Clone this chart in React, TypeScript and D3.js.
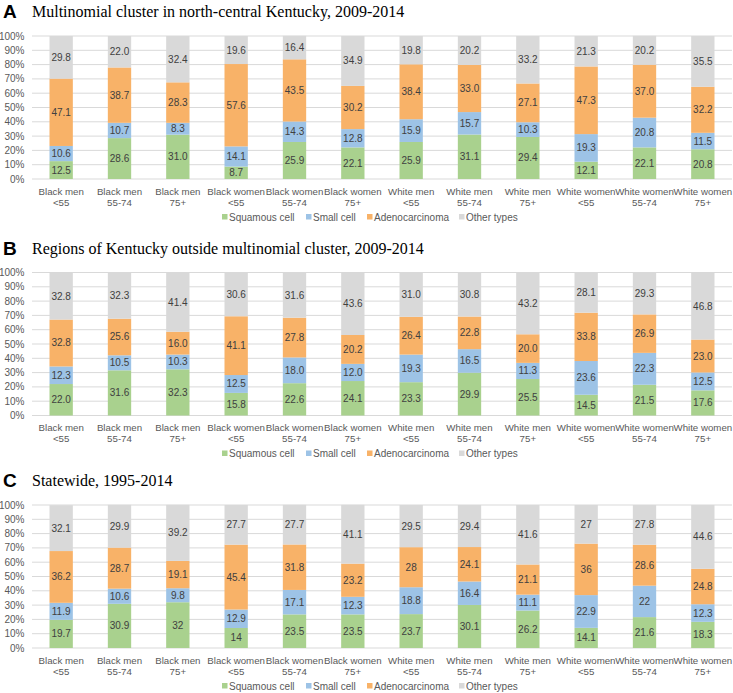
import React from "react";
import * as d3 from "d3";

const categories: string[][] = [
  ["Black men", "<55"], ["Black men", "55-74"], ["Black men", "75+"],
  ["Black women", "<55"], ["Black women", "55-74"], ["Black women", "75+"],
  ["White men", "<55"], ["White men", "55-74"], ["White men", "75+"],
  ["White women", "<55"], ["White women", "55-74"], ["White women", "75+"],
];
const seriesNames = ["Squamous cell", "Small cell", "Adenocarcinoma", "Other types"];
const seriesColors = ["#A9D18E", "#9DC3E6", "#F8B268", "#D9D9D9"];
const yTicks = [0, 10, 20, 30, 40, 50, 60, 70, 80, 90, 100];

// Panel A
const aSquamous = ["12.5", "28.6", "31.0", "8.7", "25.9", "22.1", "25.9", "31.1", "29.4", "12.1", "22.1", "20.8"];
const aSmall = ["10.6", "10.7", "8.3", "14.1", "14.3", "12.8", "15.9", "15.7", "10.3", "19.3", "20.8", "11.5"];
const aAdeno = ["47.1", "38.7", "28.3", "57.6", "43.5", "30.2", "38.4", "33.0", "27.1", "47.3", "37.0", "32.2"];
const aOther = ["29.8", "22.0", "32.4", "19.6", "16.4", "34.9", "19.8", "20.2", "33.2", "21.3", "20.2", "35.5"];
// Panel B
const bSquamous = ["22.0", "31.6", "32.3", "15.8", "22.6", "24.1", "23.3", "29.9", "25.5", "14.5", "21.5", "17.6"];
const bSmall = ["12.3", "10.5", "10.3", "12.5", "18.0", "12.0", "19.3", "16.5", "11.3", "23.6", "22.3", "12.5"];
const bAdeno = ["32.8", "25.6", "16.0", "41.1", "27.8", "20.2", "26.4", "22.8", "20.0", "33.8", "26.9", "23.0"];
const bOther = ["32.8", "32.3", "41.4", "30.6", "31.6", "43.6", "31.0", "30.8", "43.2", "28.1", "29.3", "46.8"];
// Panel C
const cSquamous = ["19.7", "30.9", "32", "14", "23.5", "23.5", "23.7", "30.1", "26.2", "14.1", "21.6", "18.3"];
const cSmall = ["11.9", "10.6", "9.8", "12.9", "17.1", "12.3", "18.8", "16.4", "11.1", "22.9", "22", "12.3"];
const cAdeno = ["36.2", "28.7", "19.1", "45.4", "31.8", "23.2", "28", "24.1", "21.1", "36", "28.6", "24.8"];
const cOther = ["32.1", "29.9", "39.2", "27.7", "27.7", "41.1", "29.5", "29.4", "41.6", "27", "27.8", "44.6"];

const panels = [
  { letter: "A", title: "Multinomial cluster in north-central Kentucky, 2009-2014", top: 36, series: [aSquamous, aSmall, aAdeno, aOther] },
  { letter: "B", title: "Regions of Kentucky outside multinomial cluster, 2009-2014", top: 272.5, series: [bSquamous, bSmall, bAdeno, bOther] },
  { letter: "C", title: "Statewide, 1995-2014", top: 505, series: [cSquamous, cSmall, cAdeno, cOther] },
];

const W = 733;
const H = 693;
const plotLeft = 32;
const plotRight = 732;
const plotH = 143;
const sans = "'Liberation Sans', Arial, sans-serif";
const serif = "'Liberation Serif', 'Times New Roman', serif";

function Panel({ p }: { p: typeof panels[number] }) {
  const x = d3.scaleBand<number>().domain(d3.range(categories.length)).range([plotLeft, plotRight]).paddingInner(0.6).paddingOuter(0.3);
  const y = d3.scaleLinear().domain([0, 100]).range([p.top + plotH, p.top]);
  const rows = categories.map((_, i) => {
    const obj: Record<string, number> = {};
    seriesNames.forEach((s, k) => (obj[s] = +p.series[k][i]));
    return obj;
  });
  const stacked = d3.stack<Record<string, number>>().keys(seriesNames)(rows);
  const y0 = y(0);
  const legendX = [222, 306, 367, 459];
  return (
    <g>
      <text x={3} y={p.top - 18} fontFamily={sans} fontWeight="bold" fontSize={19} fill="#000">{p.letter}</text>
      <text x={32} y={p.top - 19} fontFamily={serif} fontSize={16} fill="#000">{p.title}</text>
      {yTicks.map((t) => (
        <g key={t}>
          <line x1={plotLeft} x2={plotRight} y1={y(t)} y2={y(t)} stroke="#D9D9D9" strokeWidth={1} />
          <text x={24.5} y={y(t)} dy="0.35em" textAnchor="end" fontFamily={sans} fontSize={10} fill="#595959">{t}%</text>
        </g>
      ))}
      {stacked.map((layer, k) => (
        <g key={k}>
          {layer.map((d, i) => (
            <rect key={i} x={x(i)} width={x.bandwidth()} y={y(d[1])} height={y(d[0]) - y(d[1])} fill={seriesColors[k]} />
          ))}
          {layer.map((d, i) => (
            <text key={"t" + i} x={(x(i) as number) + x.bandwidth() / 2} y={(y(d[0]) + y(d[1])) / 2} dy="0.35em" textAnchor="middle" fontFamily={sans} fontSize={10} fill="#404040">{p.series[k][i]}</text>
          ))}
        </g>
      ))}
      {categories.map((c, i) => (
        <text key={i} x={(x(i) as number) + x.bandwidth() / 2} fontFamily={sans} fontSize={9.7} fill="#595959" textAnchor="middle">
          <tspan x={(x(i) as number) + x.bandwidth() / 2} y={y0 + 15.5}>{c[0]}</tspan>
          <tspan x={(x(i) as number) + x.bandwidth() / 2} y={y0 + 26.5}>{c[1]}</tspan>
        </text>
      ))}
      {seriesNames.map((s, k) => (
        <g key={s}>
          <rect x={legendX[k]} y={y0 + 35} width={5.5} height={5.5} fill={seriesColors[k]} />
          <text x={legendX[k] + 7} y={y0 + 38} dy="0.35em" fontFamily={sans} fontSize={10} fill="#595959">{s}</text>
        </g>
      ))}
    </g>
  );
}

export default function App() {
  return (
    <svg width={W} height={H} style={{ position: "absolute", left: 0, top: 0, background: "#fff" }}>
      <rect width={W} height={H} fill="#fff" />
      {panels.map((p) => <Panel key={p.letter} p={p} />)}
    </svg>
  );
}
